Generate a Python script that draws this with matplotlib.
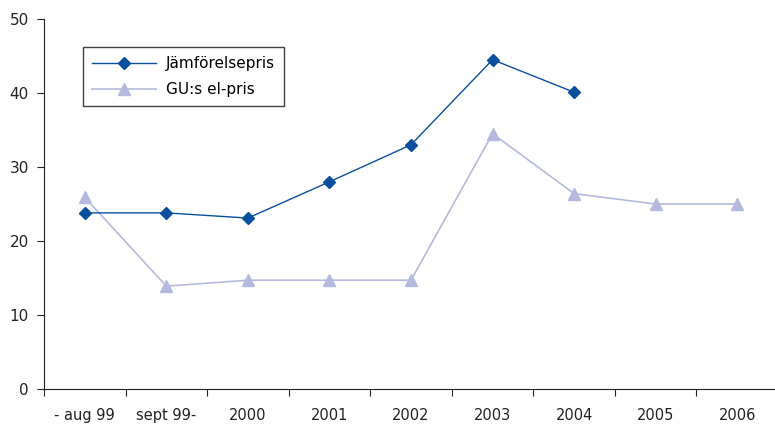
import matplotlib
matplotlib.use("Agg")
import matplotlib.pyplot as plt
import numpy as np

categories = ["- aug 99", "sept 99-", "2000", "2001", "2002", "2003", "2004", "2005", "2006"]
jamforelsepris = [23.8, 23.8, 23.1, 28.0, 33.0, 44.5, 40.1, None, None]
gu_elpris = [25.9, 13.9, 14.7, 14.7, 14.7, 34.5, 26.4, 25.0, 25.0]

plt.rcParams['font.family'] = ['DejaVu Sans']
fig = plt.figure(figsize=(7.75, 4.26), dpi=100)
ax = fig.add_axes([44/775, 1-389/426, (778-44)/775, (389-19)/426])

x = np.arange(len(categories))
j = np.array([np.nan if v is None else v for v in jamforelsepris], dtype=float)
g = np.array(gu_elpris, dtype=float)

ax.plot(x, j, color='#0A4F9E', lw=1.0, marker='D', ms=6.5, markeredgecolor='#0A4F9E',
        markerfacecolor='#0A4F9E', label='Jämförelsepris', zorder=3)
ax.plot(x, g, color='#B4BADD', lw=1.2, marker='^', ms=8, markeredgecolor='#B4BADD',
        markerfacecolor='#B4BADD', label='GU:s el-pris', zorder=2)

ax.set_xlim(-0.5, len(categories) - 0.5)
ax.set_ylim(0, 50)
ax.set_yticks(np.arange(0, 51, 10))
ax.set_xticks(np.arange(-0.5, len(categories) - 0.4, 1.0))
ax.set_xticklabels([])
ax.set_xticks(x, minor=True)
ax.set_xticklabels(categories, minor=True)
ax.tick_params(axis='x', which='minor', length=0, pad=14, labelsize=10.5, colors='#222222')
ax.tick_params(axis='x', which='major', length=5, direction='out', color='#222222')
ax.tick_params(axis='y', length=5, direction='out', labelsize=11, pad=6, colors='#222222')
ax.spines['top'].set_visible(False)
ax.spines['right'].set_visible(False)
ax.spines['left'].set_color('#222222')
ax.spines['bottom'].set_color('#222222')

leg = ax.legend(loc='upper left', bbox_to_anchor=((83-44)/734, (389-47)/370),
                frameon=True, fancybox=False, edgecolor='#111111', fontsize=11,
                handlelength=4.2, borderpad=0.6, labelspacing=0.7, handletextpad=0.6,
                borderaxespad=0)
leg.get_frame().set_linewidth(1.0)

fig.savefig("out.png", dpi=100)
